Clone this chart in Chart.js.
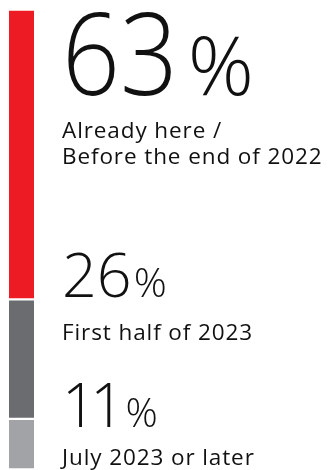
<!DOCTYPE html>
<html>
<head>
<meta charset="utf-8">
<style>
  html, body { margin: 0; padding: 0; background: #ffffff; }
  #wrap { position: relative; width: 329px; height: 470px; }
</style>
<script src="https://cdn.jsdelivr.net/npm/chart.js@4/dist/chart.umd.min.js"></script>
</head>
<body>
<div id="wrap"><canvas id="c" width="329" height="470"></canvas></div>
<script>
// Survey answers, stacked from bottom to top
const categories = ['Timing'];
const segmentLabels = ['July 2023 or later', 'First half of 2023', 'Already here /\nBefore the end of 2022'];
const segmentValues = [11, 26, 63];
const segmentColors = ['#a2a3a6', '#6b6c70', '#ed1c24'];

// Text block for each segment: big percentage, then the caption lines
const textLayout = [
  { numSize: 60, numScale: 1, numSpacing: -6, pctSize: 40, numBase: 427, capSize: 22.5, capBase: 465, pctGap: 1 },
  { numSize: 61, numScale: 1, numSpacing: 0, pctSize: 41, numBase: 297, capSize: 22.5, capBase: 340, pctGap: 2 },
  { numSize: 114, numScale: 0.89, numSpacing: 0, pctSize: 82, numBase: 95, capSize: 22.5, capBase: 137.7, pctGap: 10 }
];
const CAP_SPACING = 0.9;

const FONT = '"Open Sans", "Noto Sans", sans-serif';

// Draws text one glyph at a time with extra tracking; returns the advance
function drawTracked(ctx, text, x, y, spacing, sx) {
  let cx = 0;
  ctx.save();
  ctx.translate(x, y);
  ctx.scale(sx, 1);
  for (const ch of text) {
    ctx.fillText(ch, cx, 0);
    cx += ctx.measureText(ch).width + spacing / sx;
  }
  ctx.restore();
  return (cx - spacing / sx) * sx;
}

const labelPlugin = {
  id: 'segmentText',
  afterDatasetsDraw(chart) {
    const ctx = chart.ctx;
    const x0 = 62;
    ctx.save();
    ctx.fillStyle = '#111111';
    ctx.textAlign = 'left';
    ctx.textBaseline = 'alphabetic';
    segmentValues.forEach((v, i) => {
      const L = textLayout[i];
      const num = String(v);
      ctx.font = '300 ' + L.numSize + 'px ' + FONT;
      const w = drawTracked(ctx, num, x0, L.numBase, L.numSpacing, L.numScale);
      ctx.font = '300 ' + L.pctSize + 'px ' + FONT;
      ctx.fillText('%', x0 + w + L.pctGap, L.numBase);
      ctx.font = '400 ' + L.capSize + 'px ' + FONT;
      const lines = segmentLabels[i].split('\n');
      const lh = 26.6;
      lines.forEach((ln, k) => {
        drawTracked(ctx, ln, x0, L.capBase + k * lh, CAP_SPACING, 1);
      });
    });
    ctx.restore();
  }
};

new Chart(document.getElementById('c'), {
  type: 'bar',
  data: {
    labels: categories,
    datasets: segmentValues.map((v, i) => ({
      label: segmentLabels[i],
      data: [v],
      backgroundColor: segmentColors[i],
      borderColor: '#ffffff',
      borderWidth: { top: 1.5, bottom: 1.5, left: 0, right: 0 },
      borderSkipped: false,
      barPercentage: 1,
      categoryPercentage: 1
    }))
  },
  options: {
    responsive: false,
    animation: false,
    layout: { padding: { left: 9, right: 295, top: 9.5, bottom: 0.5 } },
    plugins: { legend: { display: false }, tooltip: { enabled: false } },
    scales: {
      x: { stacked: true, display: false },
      y: { stacked: true, display: false, min: 0, max: 100 }
    }
  },
  plugins: [labelPlugin]
});
</script>
</body>
</html>
